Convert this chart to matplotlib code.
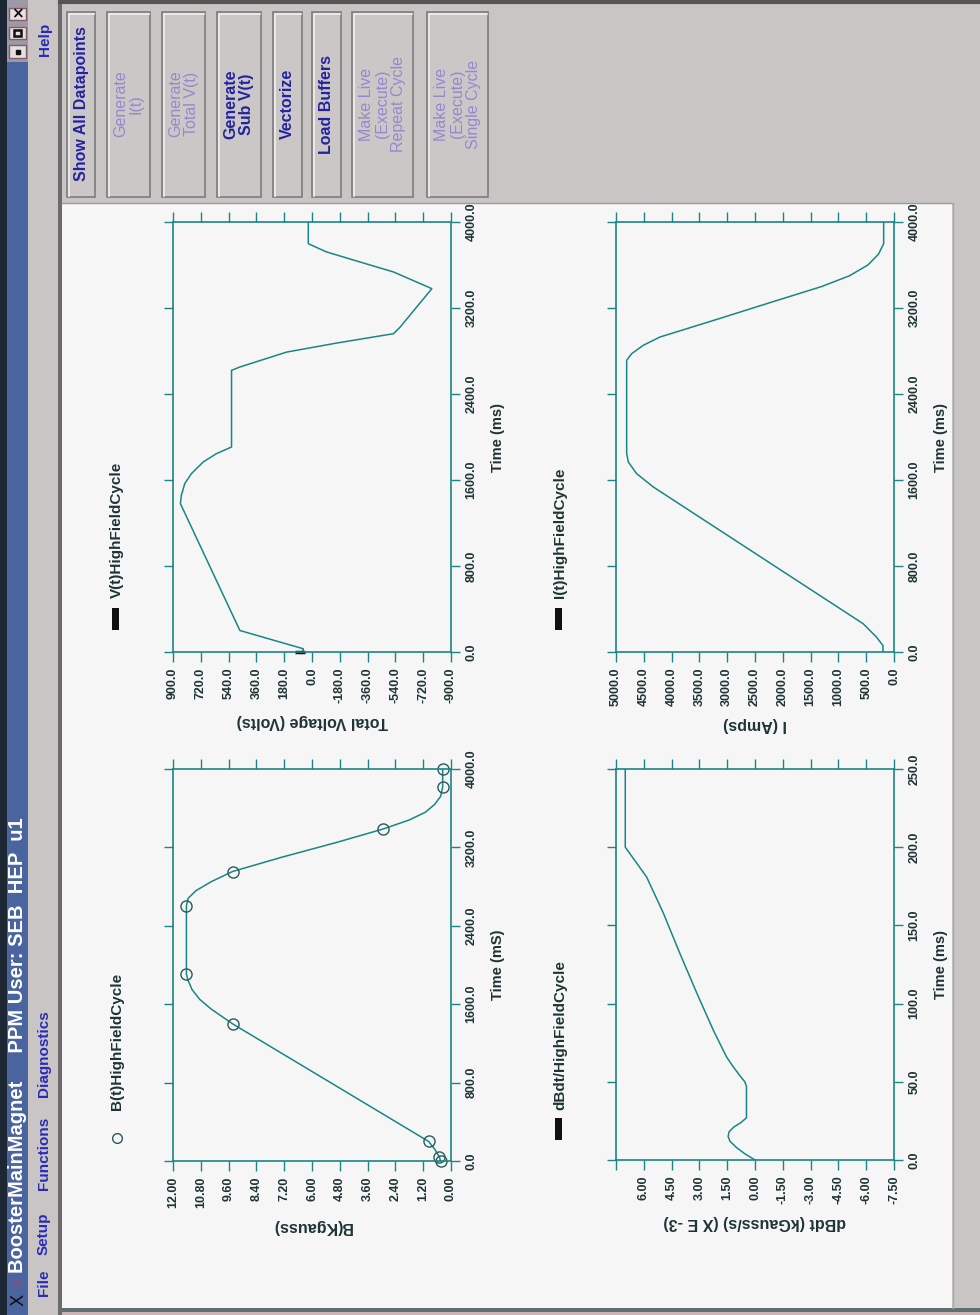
import matplotlib
matplotlib.use('Agg')
import matplotlib.pyplot as plt
from matplotlib.patches import Rectangle

plt.rcParams['font.family'] = ['Liberation Sans', 'DejaVu Sans']

# ---- values (time in ms) ----
# B(t): stored datapoints (circles) and the generated curve
b_pts_t = [0, 40, 200, 1397, 1905, 2606, 2954, 3387, 3813, 4000]
b_pts_v = [0.45, 0.50, 0.97, 9.43, 11.42, 11.42, 9.43, 2.94, 0.36, 0.36]
b_t = [0, 40, 120, 200, 400, 800, 1200, 1400, 1550, 1650, 1750, 1850, 1905,
       2606, 2680, 2760, 2850, 2954, 3100, 3250, 3387, 3480, 3560, 3640, 3720, 3813, 4000]
b_v = [0.45, 0.50, 0.70, 0.97, 2.38, 5.20, 8.02, 9.43, 10.35, 10.85, 11.18, 11.36, 11.42,
       11.42, 11.35, 11.00, 10.35, 9.43, 7.30, 4.95, 2.94, 1.80, 1.10, 0.70, 0.45, 0.36, 0.36]

# total voltage V(t)
v_pts_t = [0]
v_pts_v = [75]
v_t = [0, 30, 200, 1380, 1457, 1566, 1659, 1767, 1845, 1907, 2620, 2651, 2790, 2874,
       2961, 3023, 3380, 3535, 3628, 3721, 3798, 4000]
v_v = [62, 56, 467, 852, 846, 824, 781, 705, 619, 521, 521, 467, 164, -160,
       -528, -571, -776, -528, -311, -95, 24, 24]

# dB/dt (x 1E-3), time axis 0..250
db_t = [0, 4, 8, 12, 15, 18, 21, 24, 27, 47, 50, 54, 60, 66, 83, 107, 132, 158, 181, 200, 250]
db_v = [0.0, 0.55, 1.0, 1.35, 1.45, 1.40, 1.15, 0.75, 0.46, 0.46, 0.55, 0.82, 1.20, 1.54,
        2.25, 3.15, 4.05, 4.95, 5.85, 7.0, 7.0]

# current I(t)
i_t = [0, 60, 140, 264, 1535, 1659, 1767, 1845, 2713, 2775, 2853, 2930, 3100, 3250,
       3400, 3500, 3600, 3700, 3798, 4000]
i_v = [198, 198, 317, 557, 4329, 4629, 4778, 4808, 4808, 4719, 4509, 4210, 3150, 2230,
       1300, 800, 470, 280, 186, 186]

time_ticks = [0, 800, 1600, 2400, 3200, 4000]
db_time_ticks = [0, 50, 100, 150, 200, 250]
b_ticks = [12.0, 10.8, 9.6, 8.4, 7.2, 6.0, 4.8, 3.6, 2.4, 1.2, 0.0]
v_ticks = [900, 720, 540, 360, 180, 0, -180, -360, -540, -720, -900]
db_ticks = [7.5, 6.0, 4.5, 3.0, 1.5, 0.0, -1.5, -3.0, -4.5, -6.0, -7.5]
i_ticks = [5000, 4500, 4000, 3500, 3000, 2500, 2000, 1500, 1000, 500, 0]

buttons = ["Show All Datapoints", "Generate\nI(t)", "Generate\nTotal V(t)", "Generate\nSub V(t)",
           "Vectorize", "Load Buffers", "Make Live\n(Execute)\nRepeat Cycle",
           "Make Live\n(Execute)\nSingle Cycle"]
button_on = [True, False, False, True, True, True, False, False]
button_x = [(67, 95), (107, 150), (162, 205), (217, 261), (273, 302), (312, 341), (352, 413), (427, 488)]
menus = ["File", "Setup", "Functions", "Diagnostics"]
menu_y = [1296, 1255, 1190, 1097]

W, H = 980, 1315
PANEL = '#c9c5c5'
PLOT_BG = '#f6f6f6'
LINE = '#1b8585'
TXT = '#1e3434'
BLUE_TXT = '#23239e'


def rect(l, t, r, b):
    return [l / W, 1 - b / H, (r - l) / W, (b - t) / H]


fig = plt.figure(figsize=(W / 100, H / 100), dpi=100, facecolor=PANEL)

ax_bg = fig.add_axes([0, 0, 1, 1], zorder=0)
ax_bg.set_xlim(0, W)
ax_bg.set_ylim(H, 0)
ax_bg.axis('off')
ax_bg.add_patch(Rectangle((62, 203), 890, 1105, fc=PLOT_BG, ec='none'))


def setup(ax, xticks, xfmt, yticks, yfmt, xlabel, ylabel, skip=None):
    ax.set_facecolor(PLOT_BG)
    ax.set_xlim(xticks[0], xticks[-1])
    ax.set_ylim(yticks[0], yticks[-1])
    ax.set_xticks(xticks)
    ax.set_xticklabels(['' if v == skip else xfmt.format(v) for v in xticks],
                       rotation=90, fontsize=9, fontweight='bold', color=TXT)
    ax.set_yticks(yticks)
    ax.set_yticklabels([yfmt.format(v) for v in yticks], rotation=90, va='center',
                       fontsize=9, fontweight='bold', color=TXT)
    ax.tick_params(axis='x', top=True, bottom=True, direction='out', length=7,
                   width=1, color=LINE, pad=4)
    ax.tick_params(axis='y', left=True, right=True, labelleft=False, labelright=True,
                   direction='out', length=6.5, width=1, color=LINE, pad=4)
    for s in ax.spines.values():
        s.set_color(LINE)
        s.set_linewidth(1.2)
    ax.set_xlabel(xlabel, rotation=180, fontsize=11.5, fontweight='bold', color=TXT, labelpad=8)
    ax.yaxis.set_label_position('right')
    ax.set_ylabel(ylabel, rotation=90, fontsize=10.5, fontweight='bold', color=TXT, labelpad=10)


# B(t)
ax_b = fig.add_axes(rect(173, 769, 451, 1161), zorder=1)
ax_b.plot(b_v, b_t, color=LINE, lw=1.1)
ax_b.plot(b_pts_v, b_pts_t, 'o', ms=8, mfc='none', mec='#2a5a5a', mew=1, clip_on=False)
setup(ax_b, b_ticks, '{:.2f}', time_ticks, '{:.1f}', 'B(Kgauss)', 'Time (mS)')

# V(t)
ax_v = fig.add_axes(rect(173, 222, 451, 652), zorder=1)
ax_v.plot(v_v, v_t, color=LINE, lw=1.1)
ax_v.plot(v_pts_v, v_pts_t, '_', ms=7, mew=2.5, color='#101010', clip_on=False)
setup(ax_v, v_ticks, '{:.1f}', time_ticks, '{:.1f}', 'Total Voltage (Volts)', 'Time (ms)')

# dB/dt
ax_d = fig.add_axes(rect(616, 769, 894, 1160), zorder=1)
ax_d.plot(db_v, db_t, color=LINE, lw=1.1)
setup(ax_d, db_ticks, '{:.2f}', db_time_ticks, '{:.1f}', 'dBdt (kGauss/s) (X E -3)',
      'Time (ms)', skip=7.5)

# I(t)
ax_i = fig.add_axes(rect(616, 222, 894, 652), zorder=1)
ax_i.plot(i_v, i_t, color=LINE, lw=1.1)
setup(ax_i, i_ticks, '{:.1f}', time_ticks, '{:.1f}', 'I (Amps)', 'Time (ms)')

# legends above each plot (left in the rotated view)
leg_kw = dict(rotation=90, ha='center', va='bottom', fontsize=11, fontweight='bold', color=TXT)
ax_bg.plot([117], [1138], 'o', ms=7, mfc='none', mec='#2a5a5a', mew=1)
ax_bg.text(117, 1110, 'B(t)HighFieldCycle', **leg_kw)
ax_bg.add_patch(Rectangle((112, 608), 7, 22, fc='#101010', ec='none'))
ax_bg.text(117, 598, 'V(t)HighFieldCycle', **leg_kw)
ax_bg.add_patch(Rectangle((555, 608), 7, 22, fc='#101010', ec='none'))
ax_bg.text(560, 598, 'I(t)HighFieldCycle', **leg_kw)
ax_bg.add_patch(Rectangle((555, 1118), 7, 22, fc='#101010', ec='none'))
ax_bg.text(560, 1110, 'dBdt/HighFieldCycle', **leg_kw)

# ---- window chrome drawn on top ----
ax_top = fig.add_axes([0, 0, 1, 1], zorder=3)
ax_top.set_xlim(0, W)
ax_top.set_ylim(H, 0)
ax_top.axis('off')
ax_top.patch.set_visible(False)

# button panel
ax_top.add_patch(Rectangle((60, 0), W - 60, 203, fc=PANEL, ec='none'))
ax_top.plot([60, W], [1.5, 1.5], color='#555555', lw=3)
ax_top.plot([62, 952], [203, 203], color='#9a9a9a', lw=1)
for (x0, x1), label, on in zip(button_x, buttons, button_on):
    ax_top.add_patch(Rectangle((x0, 12), x1 - x0, 185, fc='#cbc7c7', ec='#7c7c7c', lw=1.2))
    ax_top.plot([x0 + 1.5, x0 + 1.5, x1 - 1], [196, 13.5, 13.5], color='#f2eeee', lw=1.2)
    ax_top.text((x0 + x1) / 2, 104, label, rotation=90, ha='center', va='center',
                multialignment='center', linespacing=1.05, fontsize=11.5,
                fontweight='bold' if on else 'normal',
                color=BLUE_TXT if on else '#928ace')

# right strip and bottom border
ax_top.add_patch(Rectangle((952, 203), W - 952, H - 203, fc=PANEL, ec='none'))
ax_top.plot([952.5, 952.5], [203, 1308], color='#a8a8a8', lw=1)
ax_top.add_patch(Rectangle((60, 1308), W - 60, 3.5, fc='#5f6f6f', ec='none'))
ax_top.add_patch(Rectangle((60, 1311.5), W - 60, 3.5, fc='#c8b4b4', ec='none'))

# menu bar
ax_top.add_patch(Rectangle((28, 0), 31, H, fc=PANEL, ec='none'))
ax_top.add_patch(Rectangle((58, 0), 4, H, fc='#6b6b6b', ec='none'))
menu_kw = dict(rotation=90, ha='center', va='bottom', fontsize=11, fontweight='bold', color='#2a2ab8')
for name, y in zip(menus, menu_y):
    ax_top.text(44, y, name, **menu_kw)
ax_top.text(45, 56, 'Help', **menu_kw)

# title bar
ax_top.add_patch(Rectangle((0, 0), 7, H, fc='#1d2633', ec='none'))
ax_top.add_patch(Rectangle((7, 0), 21, H, fc='#4a64a0', ec='none'))
ax_top.add_patch(Rectangle((7, 0), 21, 62, fc='#9c9aa6', ec='none'))
for y0, y1 in [(8, 20), (27, 39), (45, 58)]:
    ax_top.add_patch(Rectangle((9, y0), 17, y1 - y0, fc='#e4e0e0', ec='#8a5a6a', lw=1))
ax_top.text(17.5, 14, '\u00d7', ha='center', va='center', fontsize=11, fontweight='bold',
            color='#101010', family='DejaVu Sans')
ax_top.add_patch(Rectangle((14, 30), 7, 6, fc='none', ec='#101010', lw=1.8))
ax_top.plot([17.5], [51.5], 's', ms=3, color='#101010')
ax_top.text(18, 1273, 'BoosterMainMagnet     PPM User: SEB  HEP  u1', rotation=90,
            ha='center', va='bottom', fontsize=14.5, fontweight='bold', color='white')
ax_top.text(18, 1300, 'X', rotation=90, ha='center', va='center', fontsize=13,
            color='#101010', family='DejaVu Sans')
ax_top.text(18, 1284, '-\u00a4', rotation=90, ha='center', va='center', fontsize=9,
            color='#c83c3c', family='DejaVu Sans')

fig.savefig('out.png', dpi=100, facecolor=PANEL)
